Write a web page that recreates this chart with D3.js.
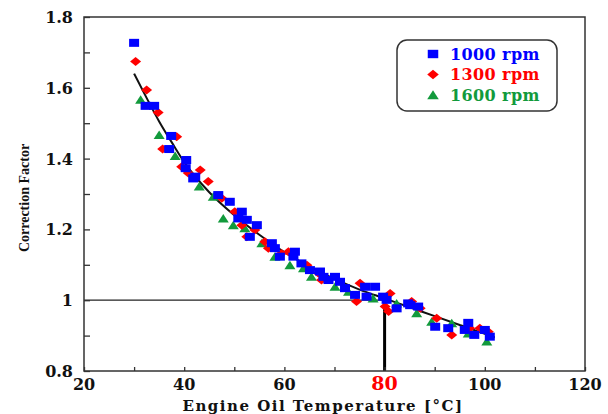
<!DOCTYPE html>
<html>
<head>
<meta charset="utf-8">
<script src="https://cdn.jsdelivr.net/npm/d3@7"></script>
<style>
  body { margin: 0; background: #fff; }
  svg { display: block; }
</style>
</head>
<body>
<div id="chart"></div>
<script>
// readings of the scatter, [temperature, correction factor]
const rpm1000 = [[30.0,1.727],[32.3,1.549],[34.0,1.549],[37.4,1.464],[37.0,1.427],[40.4,1.396],[40.3,1.373],[42.2,1.349],[41.8,1.344],[46.8,1.297],[49.1,1.278],[51.5,1.25],[50.8,1.231],[52.5,1.227],[54.5,1.212],[53.1,1.179],[57.5,1.161],[58.1,1.147],[59.1,1.123],[62.1,1.137],[61.8,1.123],[63.4,1.104],[65.1,1.085],[67.1,1.081],[67.8,1.066],[68.8,1.057],[70.1,1.066],[71.1,1.052],[72.1,1.034],[74.1,1.015],[76.1,1.038],[78.1,1.038],[76.4,1.010],[79.7,1.010],[80.4,1.001],[82.4,0.977],[84.7,0.991],[85.1,0.986],[86.7,0.982],[90.1,0.925],[92.7,0.921],[96.7,0.936],[96.0,0.916],[97.9,0.902],[100.0,0.916],[101.0,0.897]];
const rpm1300 = [[30.3,1.674],[32.5,1.594],[34.8,1.53],[38.5,1.462],[35.7,1.427],[39.5,1.377],[43.2,1.368],[40.8,1.359],[44.8,1.335],[47.5,1.288],[50.1,1.25],[51.5,1.212],[54.1,1.198],[52.5,1.179],[56.1,1.165],[56.8,1.147],[59.4,1.132],[60.8,1.137],[64.5,1.099],[66.8,1.076],[67.4,1.057],[75.1,1.048],[74.4,0.996],[81.1,1.019],[80.8,0.968],[80.1,0.982],[85.4,0.996],[87.1,0.977],[90.4,0.949],[93.4,0.902],[97.0,0.921],[99.0,0.921],[100.7,0.911]];
const rpm1600 = [[31.3,1.566],[35.0,1.467],[38.2,1.407],[43.0,1.321],[45.8,1.292],[47.8,1.231],[49.8,1.212],[52.1,1.203],[55.5,1.161],[58.1,1.123],[61.1,1.099],[63.8,1.09],[65.4,1.066],[70.1,1.038],[72.8,1.024],[77.7,1.005],[82.4,0.991],[86.4,0.963],[89.4,0.939],[93.4,0.935],[96.7,0.906],[100.4,0.883]];
// fitted curve
const fitLine = [[30,1.64],[32,1.585],[35,1.505],[38,1.435],[40,1.39],[45,1.305],[50,1.24],[55,1.185],[60,1.136],[65,1.095],[70,1.06],[75,1.03],[80,1.005],[85,0.98],[90,0.955],[95,0.93],[100,0.905],[102,0.895]];
const xTicks = [20, 40, 60, 80, 100, 120];
const yTicks = [0.8, 1, 1.2, 1.4, 1.6, 1.8];
const refTemp = 80, refFactor = 1;
const seriesNames = ["1000 rpm", "1300 rpm", "1600 rpm"];

const W = 608, H = 414;
const margin = { top: 17, right: 23, bottom: 43, left: 84 };
const width = W - margin.left - margin.right;
const height = H - margin.top - margin.bottom;

const svg = d3.select("#chart").append("svg")
  .attr("width", W)
  .attr("height", H);

const g = svg.append("g")
  .attr("transform", `translate(${margin.left},${margin.top})`);

const x = d3.scaleLinear().domain([20, 120]).range([0, width]);
const y = d3.scaleLinear().domain([0.8, 1.8]).range([height, 0]);

const tickFont = "'DejaVu Serif', serif";
const axisCol = "#333";

// reference lines
g.append("line")
  .attr("x1", x(20)).attr("x2", x(refTemp))
  .attr("y1", y(refFactor)).attr("y2", y(refFactor))
  .attr("stroke", "#222").attr("stroke-width", 1.3);
g.append("line")
  .attr("x1", x(refTemp)).attr("x2", x(refTemp))
  .attr("y1", y(refFactor)).attr("y2", y(0.8))
  .attr("stroke", "#000").attr("stroke-width", 3);

// frame
g.append("rect")
  .attr("width", width).attr("height", height)
  .attr("fill", "none").attr("stroke", axisCol).attr("stroke-width", 1.5);

// inward ticks
const xAxis = g.append("g")
  .attr("transform", `translate(0,${height})`)
  .call(d3.axisBottom(x).tickValues(d3.range(20, 121, 10)).tickSize(-4).tickFormat(""));
xAxis.select(".domain").remove();
xAxis.selectAll(".tick line").attr("stroke", axisCol).attr("stroke-width", 1.3);

const yAxis = g.append("g")
  .call(d3.axisLeft(y).tickValues(d3.range(8, 19).map(d => d / 10)).tickSize(-6).tickFormat(""));
yAxis.select(".domain").remove();
yAxis.selectAll(".tick line").attr("stroke", axisCol).attr("stroke-width", 1.3);

// tick labels
g.selectAll(".xlab")
  .data(xTicks)
  .enter().append("text")
  .attr("x", d => x(d))
  .attr("y", height + 19)
  .attr("text-anchor", "middle")
  .style("font-family", tickFont)
  .style("font-weight", "bold")
  .style("font-size", d => d === refTemp ? "19px" : "16px")
  .attr("fill", d => d === refTemp ? "#ff0000" : "#111")
  .text(d => d);

g.selectAll(".ylab")
  .data(yTicks)
  .enter().append("text")
  .attr("x", -11)
  .attr("y", d => y(d) + 6)
  .attr("text-anchor", "end")
  .style("font-family", tickFont)
  .style("font-weight", "bold")
  .style("font-size", "16px")
  .attr("fill", "#111")
  .text(d => d3.format("")(d));

// axis titles
svg.append("text")
  .attr("x", 323)
  .attr("y", 411)
  .attr("text-anchor", "middle")
  .style("font-family", tickFont)
  .style("font-weight", "bold")
  .style("font-size", "15px")
  .style("letter-spacing", "1.5px")
  .attr("fill", "#111")
  .text("Engine Oil Temperature [\u00B0C]");

svg.append("text")
  .attr("transform", "translate(29,198) rotate(-90)")
  .attr("text-anchor", "middle")
  .style("font-family", "'Liberation Serif', serif")
  .style("font-weight", "bold")
  .style("font-size", "14px")
  .attr("fill", "#111")
  .text("Correction Factor");

// fit curve
g.append("path")
  .datum(fitLine)
  .attr("fill", "none")
  .attr("stroke", "#111")
  .attr("stroke-width", 2)
  .attr("d", d3.line().x(d => x(d[0])).y(d => y(d[1])).curve(d3.curveMonotoneX));

// markers
const colours = ["#0000ff", "#ff0000", "#129a3c"];

function marker(sel, i) {
  if (i === 0) {
    sel.append("rect").attr("x", -5).attr("y", -4).attr("width", 10).attr("height", 8).attr("fill", colours[0]);
  } else if (i === 1) {
    sel.append("path").attr("d", "M-5.5,0L0,-4.5L5.5,0L0,4.5Z").attr("fill", colours[1]);
  } else {
    sel.append("path").attr("d", "M-5.5,4L0,-4.5L5.5,4Z").attr("fill", colours[2]);
  }
}

[rpm1600, rpm1300, rpm1000].forEach((data, k) => {
  const i = 2 - k;
  g.selectAll(".m" + i)
    .data(data)
    .enter().append("g")
    .attr("class", "m" + i)
    .attr("transform", d => `translate(${x(d[0])},${y(d[1])})`)
    .each(function() { marker(d3.select(this), i); });
});

// legend
const legend = svg.append("g").attr("transform", "translate(397,40)");
legend.append("rect")
  .attr("width", 160).attr("height", 71)
  .attr("rx", 10).attr("ry", 10)
  .attr("fill", "#fff").attr("stroke", "#333").attr("stroke-width", 1.5);

const items = legend.selectAll(".legend-item")
  .data(seriesNames)
  .enter().append("g")
  .attr("class", "legend-item")
  .attr("transform", (d, i) => `translate(0,${14 + i * 20.5})`);

items.each(function(d, i) {
  const it = d3.select(this).append("g").attr("transform", "translate(36,0) scale(1.05)");
  marker(it, i);
});

items.append("text")
  .attr("x", 53)
  .attr("y", 5.5)
  .style("font-family", tickFont)
  .style("font-weight", "bold")
  .style("font-size", "16px")
  .style("letter-spacing", "0.4px")
  .attr("fill", (d, i) => colours[i])
  .text(d => d);
</script>
</body>
</html>
